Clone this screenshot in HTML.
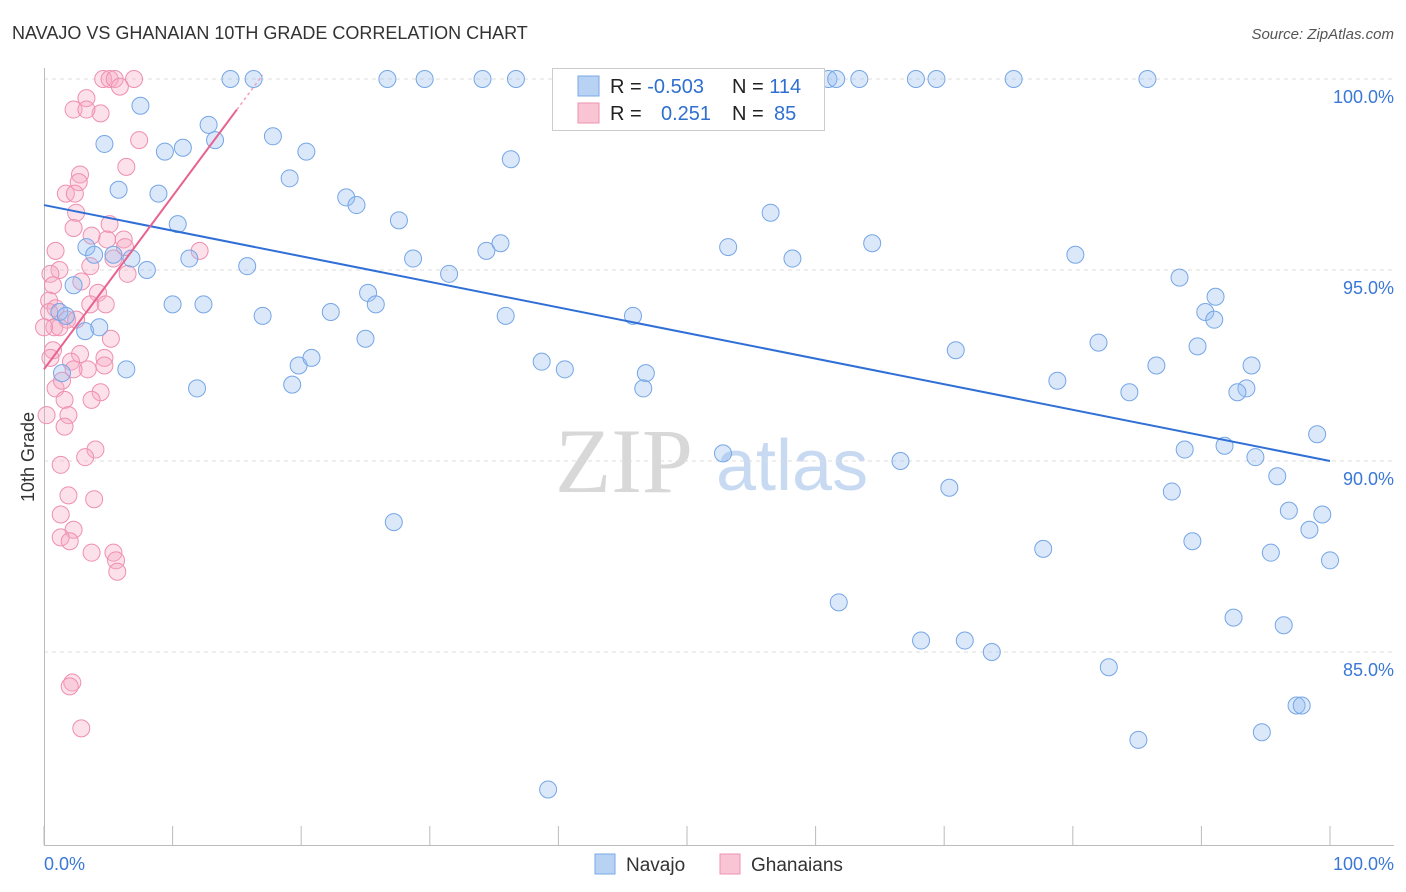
<!DOCTYPE html>
<html><head><meta charset="utf-8"><style>
body{margin:0;background:#fff;font-family:"Liberation Sans",sans-serif}
#wrap{position:relative;width:1406px;height:892px}
svg{position:absolute;left:0;top:0}
</style></head><body>
<div id="wrap">
<svg id="c" width="1406" height="892">
<text x="12" y="39" font-size="18" fill="#333">NAVAJO VS GHANAIAN 10TH GRADE CORRELATION CHART</text>
<text x="1394" y="39" font-size="15" fill="#555" font-style="italic" text-anchor="end">Source: ZipAtlas.com</text>
<text x="34" y="457" font-size="18" fill="#333" transform="rotate(-90 34 457)" text-anchor="middle">10th Grade</text>
<text x="555" y="492" font-size="92" fill="#d8d8d8" font-family="Liberation Serif,serif">ZIP</text>
<text x="716" y="490" font-size="72" fill="#c8daf2">atlas</text>
<g id="grid"></g><g id="pts"></g><g id="lines"></g>
<g>
<rect x="552.5" y="68.5" width="272" height="62" fill="#fff" stroke="#ccc"/>
<rect x="578" y="76" width="21" height="20" fill="#b8d2f4" stroke="#7aa8e6"/>
<rect x="578" y="103" width="21" height="20" fill="#f9c4d4" stroke="#ee93b2"/>
<text x="610" y="93" font-size="20" fill="#222">R = <tspan fill="#2f6fd0">-0.503</tspan></text>
<text x="732" y="93" font-size="20" fill="#222">N = <tspan fill="#2f6fd0">114</tspan></text>
<text x="610" y="120" font-size="20" fill="#222">R = </text><text x="661" y="120" font-size="20" fill="#2f6fd0">0.251</text>
<text x="732" y="120" font-size="20" fill="#222">N = </text><text x="774" y="120" font-size="20" fill="#2f6fd0">85</text>
</g>
<g>
<rect x="595" y="854" width="20" height="20" fill="#b8d2f4" stroke="#7aa8e6"/>
<text x="626" y="871" font-size="19" fill="#333">Navajo</text>
<rect x="720" y="854" width="20" height="20" fill="#f9c4d4" stroke="#ee93b2"/>
<text x="751" y="871" font-size="19" fill="#333">Ghanaians</text>
</g>
<text x="44" y="870" font-size="18" fill="#3a78d6">0.0%</text>
<text x="1394" y="870" font-size="18" fill="#3a78d6" text-anchor="end">100.0%</text>
</svg>
</div>
<script>
const yTicks=[100,95,90,85];
const yTickLabels=["100.0%","95.0%","90.0%","85.0%"];
const xTicks=[0,10,20,30,40,50,60,70,80,90,100];
const navajoX=[14.5,16.3,26.7,29.6,34.1,36.7,43.6,52.4,61.0,61.6,63.4,67.8,69.4,75.4,85.8,7.5,4.7,9.4,10.8,12.8,13.3,17.8,20.4,19.1,5.8,8.9,10.4,23.5,24.3,27.6,36.3,56.5,53.2,58.2,64.4,80.2,3.3,3.9,5.4,6.8,8.0,11.3,15.8,2.3,10.0,12.4,17.0,22.3,25.2,25.8,28.7,31.5,34.4,35.5,35.9,45.8,3.2,4.3,1.2,1.7,6.4,1.4,11.9,19.3,19.8,20.8,25.0,38.7,40.5,46.8,46.6,52.8,66.6,70.4,70.9,78.8,82.0,84.4,86.5,88.3,91.1,90.3,91.0,89.7,93.9,93.5,92.8,88.7,91.8,94.2,99.0,95.9,87.7,96.8,99.4,98.4,100.0,95.4,89.3,77.7,27.2,61.8,68.2,71.6,73.7,92.5,96.4,82.8,85.1,94.7,97.4,97.8,39.2];
const navajoY=[100,100,100,100,100,100,100,100,100,100,100,100,100,100,100,99.3,98.3,98.1,98.2,98.8,98.4,98.5,98.1,97.4,97.1,97.0,96.2,96.9,96.7,96.3,97.9,96.5,95.6,95.3,95.7,95.4,95.6,95.4,95.4,95.3,95.0,95.3,95.1,94.6,94.1,94.1,93.8,93.9,94.4,94.1,95.3,94.9,95.5,95.7,93.8,93.8,93.4,93.5,93.9,93.8,92.4,92.3,91.9,92.0,92.5,92.7,93.2,92.6,92.4,92.3,91.9,90.2,90.0,89.3,92.9,92.1,93.1,91.8,92.5,94.8,94.3,93.9,93.7,93.0,92.5,91.9,91.8,90.3,90.4,90.1,90.7,89.6,89.2,88.7,88.6,88.2,87.4,87.6,87.9,87.7,88.4,86.3,85.3,85.3,85.0,85.9,85.7,84.6,82.7,82.9,83.6,83.6,81.4];
const ghanaX=[4.6,5.1,5.5,7.0,5.9,3.3,2.3,4.4,3.3,7.4,6.4,2.8,2.7,1.7,2.4,2.5,5.1,4.9,6.2,6.3,3.7,2.3,0.9,12.1,5.4,3.6,6.5,2.9,1.2,0.5,0.7,0.4,4.2,3.6,4.8,0.9,1.8,2.5,0.4,0.8,1.2,0,0.7,0.5,5.2,2.8,4.7,4.7,2.1,3.4,2.3,0.9,1.6,4.4,3.7,1.9,0.2,1.6,4.0,3.2,1.3,1.9,3.9,1.3,2.3,1.3,2.0,3.7,5.4,5.6,5.7,2.2,2.0,2.9,1.4];
const ghanaY=[100,100,100,100,99.8,99.5,99.2,99.1,99.2,98.4,97.7,97.5,97.3,97.0,97.0,96.5,96.2,95.8,95.8,95.6,95.9,96.1,95.5,95.5,95.3,95.1,94.9,94.7,95.0,94.9,94.6,94.2,94.4,94.1,94.1,94.0,93.7,93.7,93.9,93.5,93.5,93.5,92.9,92.7,93.2,92.8,92.7,92.5,92.6,92.4,92.4,91.9,91.6,91.8,91.6,91.2,91.2,90.9,90.3,90.1,89.9,89.1,89.0,88.6,88.2,88.0,87.9,87.6,87.6,87.4,87.1,84.2,84.1,83.0,92.1];
const navajoTrend=[96.7,90.0];
const ghanaTrend=[92.4,99.2];
const ns="http://www.w3.org/2000/svg";
const X=v=>44+v*12.86, Y=v=>79+(100-v)*38.2;
function mk(t,a,p){const e=document.createElementNS(ns,t);for(const k in a)e.setAttribute(k,a[k]);p.appendChild(e);return e;}
const grid=document.getElementById('grid');
yTicks.forEach((t,i)=>{
 const l=mk('line',{x1:44,x2:1394,y1:Y(t),y2:Y(t),stroke:'#ddd','stroke-dasharray':'4,4'},grid);
 
 
 const tx=mk('text',{x:1394,y:Y(t)+24,'font-size':18,fill:'#3a78d6','text-anchor':'end'},grid);
 tx.textContent=yTickLabels[i];
 
 
});
const ax=mk('line',{x1:44.5,x2:44.5,y1:68,y2:845,stroke:'#bbb'},grid);


const bx=mk('line',{x1:44,x2:1394,y1:845.5,y2:845.5,stroke:'#bbb'},grid);


xTicks.forEach(t=>{const l=mk('line',{x1:X(t),x2:X(t),y1:826,y2:845,stroke:'#bbb'},grid);
 
 });
const pts=document.getElementById('pts');
ghanaX.forEach((x,i)=>{const c=mk('circle',{cx:X(x),cy:Y(ghanaY[i]),r:8.5,fill:'rgba(245,170,195,0.35)',stroke:'#ef8fb0','stroke-width':1},pts);
 
 });
navajoX.forEach((x,i)=>{const c=mk('circle',{cx:X(x),cy:Y(navajoY[i]),r:8.5,fill:'rgba(150,190,240,0.35)',stroke:'#76a6e6','stroke-width':1},pts);
 
 });
const lines=document.getElementById('lines');
const nl=mk('line',{x1:X(0),y1:Y(navajoTrend[0]),x2:X(100),y2:Y(navajoTrend[1]),stroke:'#2f6fd6','stroke-width':2},lines);


const gl=mk('line',{x1:X(0),y1:Y(ghanaTrend[0]),x2:X(15),y2:Y(ghanaTrend[1]),stroke:'#e8628f','stroke-width':2},lines);


const slope=(ghanaTrend[1]-ghanaTrend[0])/15;
const gd=mk('line',{x1:X(15),y1:Y(ghanaTrend[1]),x2:X(17),y2:Y(ghanaTrend[1]+slope*2),stroke:'#f0a0bc','stroke-width':1.5,'stroke-dasharray':'3,3'},lines);


</script>
</body></html>
